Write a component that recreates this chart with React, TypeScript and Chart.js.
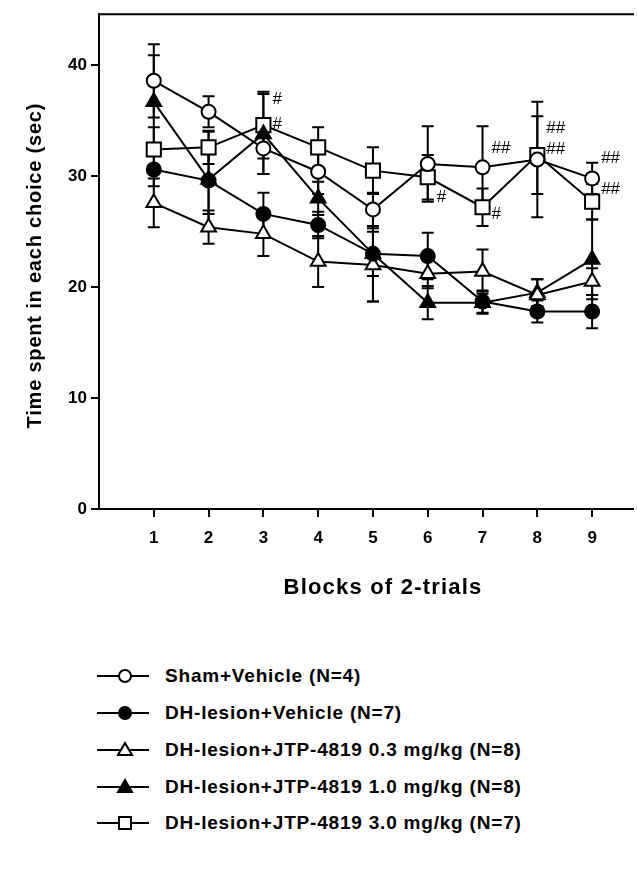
import React, { useEffect, useRef } from 'react';
import { Chart, registerables } from 'chart.js';

Chart.register(...registerables);

const blocks = [1, 2, 3, 4, 5, 6, 7, 8, 9];
const xTickValues = [1, 2, 3, 4, 5, 6, 7, 8, 9];
const yTickValues = [0, 10, 20, 30, 40];

const seriesLabels = [
  'Sham+Vehicle (N=4)',
  'DH-lesion+Vehicle (N=7)',
  'DH-lesion+JTP-4819 0.3 mg/kg (N=8)',
  'DH-lesion+JTP-4819 1.0 mg/kg (N=8)',
  'DH-lesion+JTP-4819 3.0 mg/kg (N=7)',
];

const shamVehicle = [38.6, 35.8, 32.5, 30.4, 27.0, 31.1, 30.8, 31.5, 29.8];
const shamVehicleSem = [3.3, 1.4, 2.3, 2.0, 1.5, 3.4, 3.7, 5.2, 1.4];

const lesionVehicle = [30.6, 29.6, 26.6, 25.6, 23.0, 22.8, 18.7, 17.8, 17.8];
const lesionVehicleSem = [1.5, 3.0, 1.9, 1.2, 2.0, 2.1, 1.0, 1.0, 1.5];

const jtp03 = [27.6, 25.4, 24.8, 22.3, 22.0, 21.2, 21.4, 19.3, 20.5];
const jtp03Sem = [2.2, 1.5, 2.0, 2.3, 3.3, 1.3, 2.0, 1.4, 1.2];

const jtp10 = [36.7, 29.7, 33.8, 28.0, 23.0, 18.6, 18.6, 19.5, 22.5];
const jtp10Sem = [4.2, 4.3, 3.6, 1.5, 4.3, 1.5, 1.0, 1.2, 3.6];

const jtp30 = [32.4, 32.6, 34.6, 32.6, 30.5, 29.9, 27.2, 31.9, 27.7];
const jtp30Sem = [2.0, 1.5, 3.0, 1.8, 2.1, 2.0, 1.7, 3.5, 1.6];

const markBlock = [3, 3, 6, 7, 7, 8, 8, 9, 9];
const markValue = [36.9, 34.7, 28.1, 32.5, 26.6, 34.3, 32.4, 31.6, 28.8];
const markText = ['#', '#', '#', '##', '#', '##', '##', '##', '##'];

const xTitle = 'Blocks of 2-trials';
const yTitle = 'Time spent in each choice (sec)';

const FONT = '"Liberation Sans", Arial, Helvetica, sans-serif';

type MarkerKind = { style: 'circle' | 'triangle' | 'rect'; filled: boolean; radius: number };
const markers: MarkerKind[] = [
  { style: 'circle', filled: false, radius: 7 },
  { style: 'circle', filled: true, radius: 7 },
  { style: 'triangle', filled: false, radius: 8.5 },
  { style: 'triangle', filled: true, radius: 8.5 },
  { style: 'rect', filled: false, radius: 10 },
];

const seriesValues = [shamVehicle, lesionVehicle, jtp03, jtp10, jtp30];
const seriesSem = [shamVehicleSem, lesionVehicleSem, jtp03Sem, jtp10Sem, jtp30Sem];

const errorBarPlugin = {
  id: 'errorBars',
  beforeDatasetsDraw(chart: any) {
    const { ctx, scales } = chart;
    const x = scales.x;
    const y = scales.y;
    ctx.save();
    ctx.strokeStyle = '#000';
    ctx.lineWidth = 2;
    seriesValues.forEach((vals, si) => {
      vals.forEach((v, i) => {
        const s = seriesSem[si][i];
        const px = x.getPixelForValue(blocks[i]);
        const yt = y.getPixelForValue(v + s);
        const yb = y.getPixelForValue(v - s);
        ctx.beginPath();
        ctx.moveTo(px, yt);
        ctx.lineTo(px, yb);
        ctx.moveTo(px - 6, yt);
        ctx.lineTo(px + 6, yt);
        ctx.moveTo(px - 6, yb);
        ctx.lineTo(px + 6, yb);
        ctx.stroke();
      });
    });
    ctx.restore();
  },
};

const decorPlugin = {
  id: 'decor',
  afterDraw(chart: any) {
    const { ctx, chartArea, scales } = chart;
    const x = scales.x;
    const y = scales.y;
    const rightEdge = chart.width - 3;
    ctx.save();
    // top frame line and x-axis extension to the right edge
    ctx.strokeStyle = '#000';
    ctx.lineWidth = 2;
    ctx.beginPath();
    ctx.moveTo(chartArea.left - 1, chartArea.top);
    ctx.lineTo(rightEdge, chartArea.top);
    ctx.moveTo(chartArea.right - 1, chartArea.bottom);
    ctx.lineTo(rightEdge, chartArea.bottom);
    ctx.stroke();

    // significance marks
    ctx.fillStyle = '#000';
    ctx.font = `17px ${FONT}`;
    ctx.textAlign = 'left';
    ctx.textBaseline = 'middle';
    markText.forEach((t, i) => {
      ctx.fillText(t, x.getPixelForValue(markBlock[i]) + 9, y.getPixelForValue(markValue[i]));
    });

    // axis titles
    ctx.textAlign = 'center';
    ctx.textBaseline = 'middle';
    ctx.font = `bold 22px ${FONT}`;
    (ctx as any).letterSpacing = '1.2px';
    ctx.fillText(xTitle, 383, 588);
    ctx.font = `bold 20px ${FONT}`;
    (ctx as any).letterSpacing = '0.8px';
    ctx.translate(35, (chartArea.top + chartArea.bottom) / 2 + 4);
    ctx.rotate(-Math.PI / 2);
    ctx.fillText(yTitle, 0, 0);
    ctx.restore();
  },
};

function LegendSample({ kind }: { kind: MarkerKind }) {
  const cx = 30;
  const cy = 10;
  const fill = kind.filled ? '#000' : '#fff';
  let shape: React.ReactNode;
  if (kind.style === 'circle') {
    shape = <circle cx={cx} cy={cy} r={6} fill={fill} stroke="#000" strokeWidth={2} />;
  } else if (kind.style === 'triangle') {
    shape = <polygon points={`${cx},${cy - 7} ${cx + 7},${cy + 5} ${cx - 7},${cy + 5}`} fill={fill} stroke="#000" strokeWidth={2} />;
  } else {
    shape = <rect x={cx - 6} y={cy - 6} width={12} height={12} fill={fill} stroke="#000" strokeWidth={2} />;
  }
  return (
    <svg width={56} height={20} style={{ display: 'block' }}>
      <line x1={2} y1={cy} x2={54} y2={cy} stroke="#000" strokeWidth={2} />
      {shape}
    </svg>
  );
}

export default function App() {
  const canvasRef = useRef<HTMLCanvasElement | null>(null);

  useEffect(() => {
    const canvas = canvasRef.current;
    if (!canvas) return;
    const datasets = seriesValues.map((vals, si) => ({
      label: seriesLabels[si],
      data: vals.map((v, i) => ({ x: blocks[i], y: v })),
      borderColor: '#000',
      borderWidth: 2,
      backgroundColor: markers[si].filled ? '#000' : '#fff',
      pointBackgroundColor: markers[si].filled ? '#000' : '#fff',
      pointBorderColor: '#000',
      pointBorderWidth: 2,
      pointStyle: markers[si].style,
      pointRadius: markers[si].radius,
      pointHoverRadius: markers[si].radius,
      tension: 0,
      fill: false,
    }));

    const chart = new Chart(canvas, {
      type: 'line',
      data: { datasets },
      options: {
        animation: false,
        responsive: false,
        devicePixelRatio: 1,
        layout: { padding: { top: 12, left: 0, right: 0, bottom: 0 } },
        plugins: { legend: { display: false }, tooltip: { enabled: false } },
        scales: {
          x: {
            type: 'linear',
            min: 0,
            max: 9.6,
            afterBuildTicks: (scale: any) => {
              scale.ticks = xTickValues.map((v) => ({ value: v }));
            },
            afterFit: (scale: any) => {
              scale.height = 111;
            },
            grid: { display: true, drawOnChartArea: false, drawTicks: true, tickLength: 8, color: '#000', lineWidth: 2 },
            border: { display: true, color: '#000', width: 2 },
            ticks: {
              color: '#000',
              font: { family: FONT, size: 17, weight: 'bold' },
              padding: 11,
              maxRotation: 0,
              autoSkip: false,
              callback: (v: any) => String(v),
            },
          },
          y: {
            type: 'linear',
            min: 0,
            max: 44.6,
            afterBuildTicks: (scale: any) => {
              scale.ticks = yTickValues.map((v) => ({ value: v }));
            },
            afterFit: (scale: any) => {
              scale.width = 99;
            },
            grid: { display: true, drawOnChartArea: false, drawTicks: true, tickLength: 8, color: '#000', lineWidth: 2 },
            border: { display: true, color: '#000', width: 2 },
            ticks: {
              color: '#000',
              font: { family: FONT, size: 17, weight: 'bold' },
              padding: 4,
              callback: (v: any) => String(v),
            },
          },
        },
      },
      plugins: [errorBarPlugin, decorPlugin],
    } as any);

    return () => chart.destroy();
  }, []);

  const rowTops = [666, 703, 740, 777, 813];

  return (
    <div style={{ position: 'absolute', left: 0, top: 0, width: 637, height: 892, background: '#fff', overflow: 'hidden' }}>
      <canvas ref={canvasRef} width={637} height={620} style={{ position: 'absolute', left: 0, top: 0, width: 637, height: 620 }} />
      {seriesLabels.map((label, i) => (
        <div
          key={label}
          style={{
            position: 'absolute',
            left: 95,
            top: rowTops[i],
            height: 20,
            display: 'flex',
            alignItems: 'center',
            whiteSpace: 'nowrap',
          }}
        >
          <LegendSample kind={markers[i]} />
          <span
            style={{
              marginLeft: 14,
              fontFamily: FONT,
              fontWeight: 'bold',
              fontSize: 19,
              letterSpacing: '0.8px',
              color: '#000',
              lineHeight: '20px',
            }}
          >
            {label}
          </span>
        </div>
      ))}
    </div>
  );
}
